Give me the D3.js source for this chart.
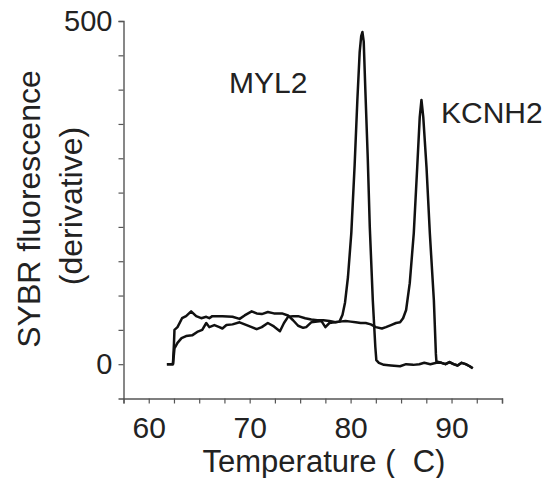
<!DOCTYPE html>
<html>
<head>
<meta charset="utf-8">
<script src="https://cdn.jsdelivr.net/npm/d3@7"></script>
<style>
  body { margin: 0; background: #fff; }
  text { font-family: "Liberation Sans", Arial, sans-serif; fill: #222; }
</style>
</head>
<body>
<div id="chart"></div>
<script>
// melt curves: temperature (C) and derivative value
var myl2Temp = [61.8, 62.4, 62.5, 62.55, 62.85, 63.25, 63.7, 64.3, 64.8, 65.3, 65.7, 66.0, 66.5, 67.0, 67.3, 67.7, 68.3, 69.0, 69.7, 70.2, 70.7, 71.2, 71.8, 72.4, 73.0, 73.4, 73.8, 74.3, 74.8, 75.5, 76.1, 76.7, 77.3, 77.9, 78.5, 78.9, 79.2, 79.45, 79.74, 80.07, 80.4, 80.67, 80.9, 81.05, 81.17, 81.3, 81.46, 81.7, 81.9, 82.2, 82.45, 82.55, 82.8, 83.3, 84.0, 84.9, 85.5, 86.2, 86.8, 87.3, 87.9, 88.5, 89.0, 89.4, 89.8, 90.2, 90.6, 91.0, 91.4, 91.8, 92.1];
var myl2Value = [0, 0, 15, 23, 31, 38, 41, 42, 47, 50, 60, 54, 57, 54, 52, 57, 58, 61, 57, 54, 51, 54, 60, 55, 48, 60, 69, 70, 70, 67, 65, 64, 64, 63, 61, 62, 72, 90, 127, 191, 290, 385, 455, 478, 484, 470, 400, 300, 200, 93, 25, 6, 2, -1, -2, -3, 0, -1, 0, 2, 0, 2, 2, 0, 3, 0, -2, 2, 0, -3, -6];

var kcnh2Temp = [61.8, 62.4, 62.5, 62.55, 62.85, 63.3, 63.7, 64.2, 64.7, 65.2, 65.7, 66.0, 66.3, 67.3, 68.3, 69.0, 69.5, 70.2, 70.7, 71.2, 71.8, 72.4, 73.2, 73.8, 74.3, 74.8, 75.3, 75.6, 76.1, 76.7, 77.1, 77.5, 77.9, 78.4, 78.9, 79.5, 80.0, 80.5, 81.0, 81.5, 82.0, 82.5, 83.1, 83.5, 84.0, 84.5, 84.9, 85.2, 85.5, 85.86, 86.26, 86.6, 86.85, 87.02, 87.2, 87.52, 87.85, 88.25, 88.45, 88.5, 89.0, 89.4, 89.8, 90.2, 90.6, 91.0, 91.4, 91.8, 92.1];
var kcnh2Value = [0, 0, 30, 50, 54, 67, 70, 77, 70, 67, 69, 67, 70, 70, 69, 66, 71, 77, 74, 73, 76, 74, 74, 71, 64, 56, 53, 54, 61, 62, 63, 54, 60, 61, 62, 63, 62, 61, 60, 60, 58, 54, 52, 54, 57, 60, 61, 67, 79, 118, 191, 287, 360, 385, 360, 287, 191, 93, 15, 4, 2, 0, 3, 0, -2, 2, 0, -3, -6];

var xTicks = d3.range(57.5, 95.01, 2.5);
var xLabels = [60, 70, 80, 90];
var yTicks = d3.range(0, 501, 50);
var yLabels = [0, 500];

var svgWidth = 552;
var svgHeight = 478;

var svg = d3.select("#chart")
  .append("svg")
  .attr("width", svgWidth)
  .attr("height", svgHeight);

var x = d3.scaleLinear()
  .domain([57.5, 95])
  .range([123.5, 502]);

var y = d3.scaleLinear()
  .domain([-50, 500])
  .range([398.5, 21]);

var bottomAxis = d3.axisBottom(x)
  .tickValues(xTicks)
  .tickSize(5)
  .tickPadding(13)
  .tickFormat(d => xLabels.indexOf(d) >= 0 ? d : "");

var leftAxis = d3.axisLeft(y)
  .tickValues(yTicks)
  .tickSize(5)
  .tickPadding(6)
  .tickFormat(d => yLabels.indexOf(d) >= 0 ? d : "");

var gx = svg.append("g")
  .attr("transform", `translate(0, ${y(-50)})`)
  .call(bottomAxis);

var gy = svg.append("g")
  .attr("transform", `translate(${x(57.5)}, 0)`)
  .call(leftAxis);

[gx, gy].forEach(function(g) {
  g.select(".domain").attr("stroke", "#555").attr("stroke-width", 1.4);
  g.selectAll(".tick line").attr("stroke", "#555").attr("stroke-width", 1.2);
  g.selectAll(".tick text")
    .attr("font-family", "Liberation Sans, Arial, sans-serif")
    .attr("fill", "#222");
});
gx.selectAll(".tick text").attr("font-size", "30px");
gy.selectAll(".tick text").attr("font-size", "29px");

var line = d3.line()
  .x(d => x(d[0]))
  .y(d => y(d[1]));

var series = [
  d3.zip(kcnh2Temp, kcnh2Value),
  d3.zip(myl2Temp, myl2Value)
];

svg.selectAll("path.curve")
  .data(series)
  .enter()
  .append("path")
  .attr("class", "curve")
  .attr("d", line)
  .attr("fill", "none")
  .attr("stroke", "#111")
  .attr("stroke-width", 2.5)
  .attr("stroke-linejoin", "round");

// labels
svg.append("text")
  .attr("x", 229)
  .attr("y", 93)
  .attr("font-size", "30px")
  .text("MYL2");

svg.append("text")
  .attr("x", 441)
  .attr("y", 123)
  .attr("font-size", "30px")
  .text("KCNH2");

svg.append("text")
  .attr("transform", "translate(40, 209) rotate(-90)")
  .attr("text-anchor", "middle")
  .attr("font-size", "32px")
  .text("SYBR fluorescence");

svg.append("text")
  .attr("transform", "translate(82, 206) rotate(-90)")
  .attr("text-anchor", "middle")
  .attr("font-size", "32px")
  .text("(derivative)");

svg.append("text")
  .attr("x", 324)
  .attr("y", 472)
  .attr("text-anchor", "middle")
  .attr("font-size", "31px")
  .text("Temperature (\u00a0 C)");
</script>
</body>
</html>
